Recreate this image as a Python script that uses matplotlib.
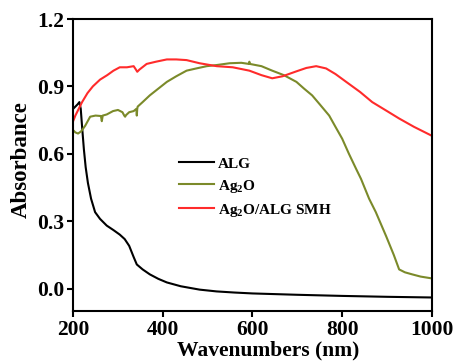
import matplotlib
matplotlib.use("Agg")
import matplotlib.pyplot as plt

plt.rcParams["font.family"] = ["Liberation Serif", "DejaVu Serif"]
plt.rcParams["font.weight"] = "bold"
plt.rcParams["mathtext.fontset"] = "custom"
plt.rcParams["mathtext.rm"] = "Liberation Serif:bold"
plt.rcParams["mathtext.bf"] = "Liberation Serif:bold"
plt.rcParams["mathtext.default"] = "rm"

# UV-vis absorbance spectra
alg_wl = [200, 205, 210, 214, 217, 220, 224, 228, 233, 240, 249, 260, 275, 290,
          304, 315, 325, 335, 342, 355, 371, 390, 409, 440, 482, 520, 560, 600,
          700, 800, 900, 1000]
alg_abs = [0.80, 0.81, 0.82, 0.83, 0.80, 0.72, 0.62, 0.54, 0.47, 0.40, 0.34, 0.31,
           0.28, 0.26, 0.24, 0.22, 0.19, 0.14, 0.107, 0.085, 0.063, 0.043, 0.027,
           0.010, -0.005, -0.013, -0.018, -0.022, -0.028, -0.033, -0.037, -0.040]

ag2o_wl = [200, 205, 211, 218, 227, 238, 250, 262, 264, 266, 275, 289, 300, 310,
           314, 316, 318, 325, 335, 341, 342, 343, 344, 355, 371, 390, 409, 430,
           453, 475, 498, 520, 549, 575, 592, 593, 594, 620, 644, 670, 698, 715,
           733, 750, 771, 785, 800, 815, 831, 842, 860, 875, 898, 915, 927, 940,
           956, 975, 1000]
ag2o_abs = [0.705, 0.695, 0.69, 0.70, 0.725, 0.765, 0.77, 0.768, 0.745, 0.77,
            0.775, 0.79, 0.795, 0.785, 0.77, 0.765, 0.772, 0.785, 0.79, 0.80,
            0.77, 0.80, 0.81, 0.83, 0.86, 0.89, 0.92, 0.945, 0.97, 0.98, 0.99,
            0.995, 1.003, 1.005, 1.0, 1.01, 1.0, 0.99, 0.97, 0.95, 0.92, 0.89,
            0.86, 0.82, 0.77, 0.72, 0.667, 0.60, 0.533, 0.488, 0.40, 0.34, 0.233,
            0.15, 0.085, 0.072, 0.063, 0.053, 0.045]

smh_wl = [200, 205, 210, 220, 232, 244, 260, 276, 290, 304, 320, 335, 340, 343,
          348, 364, 385, 409, 430, 453, 482, 520, 556, 593, 620, 644, 667, 698,
          720, 742, 764, 785, 809, 840, 867, 900, 927, 960, 1000]
smh_abs = [0.745, 0.77, 0.79, 0.83, 0.87, 0.90, 0.93, 0.95, 0.97, 0.985, 0.985,
           0.99, 0.975, 0.965, 0.975, 1.0, 1.01, 1.02, 1.02, 1.017, 1.003, 0.99,
           0.985, 0.97, 0.95, 0.936, 0.945, 0.967, 0.982, 0.99, 0.98, 0.955, 0.92,
           0.875, 0.83, 0.79, 0.757, 0.72, 0.68]

labels = ["ALG", "Ag$_2$O", "Ag$_2$O/ALG SMH"]
colors = ["#000000", "#7b8a2a", "#ff2b2b"]

xticks = [200, 400, 600, 800, 1000]
yticks = [0.0, 0.3, 0.6, 0.9, 1.2]

fig = plt.figure(figsize=(4.57, 3.62), dpi=100)
ax = fig.add_axes([0.160, 0.141, 0.785, 0.8065])

for wl, ab, lab, col in zip([alg_wl, ag2o_wl, smh_wl],
                            [alg_abs, ag2o_abs, smh_abs], labels, colors):
    ax.plot(wl, ab, color=col, lw=1.5, label=lab)

ax.set_xlim(200, 1000)
ax.set_ylim(-0.1, 1.2)
ax.set_xticks(xticks)
ax.set_yticks(yticks)
ax.set_yticklabels([f"{v:.1f}" for v in yticks])
ax.tick_params(axis="both", direction="out", length=4.5, width=1.5,
               labelsize=15.5, top=False, right=False)
ax.tick_params(axis="x", pad=2)
ax.tick_params(axis="y", pad=2)
for sp in ax.spines.values():
    sp.set_linewidth(1.5)

ax.set_xlabel("Wavenumbers (nm)", fontsize=15.5, fontweight="bold", va="bottom")
ax.set_ylabel("Absorbance", fontsize=16.5, fontweight="bold", va="center")
ax.xaxis.set_label_coords(0.543, -0.1695)
ax.yaxis.set_label_coords(-0.145, 0.52)

leg = ax.legend(loc="upper left", bbox_to_anchor=(0.374, 0.587),
                bbox_transform=fig.transFigure, frameon=False,
                prop={"size": 11, "weight": "bold"}, borderpad=0,
                handlelength=2.3, handletextpad=0.3, labelspacing=0.45)

fig.savefig("out.png", dpi=100)
